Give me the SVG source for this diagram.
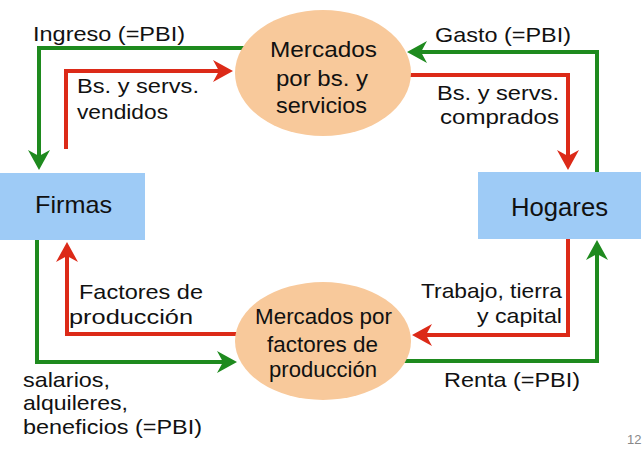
<svg xmlns="http://www.w3.org/2000/svg" width="644" height="450" viewBox="0 0 644 450">
<defs>
<style>
.t{font-family:"Liberation Sans",Arial,sans-serif;font-size:21px;fill:#111}
.n{font-family:"Liberation Sans",Arial,sans-serif;font-size:22px;fill:#111}
.b{font-family:"Liberation Sans",Arial,sans-serif;font-size:24px;fill:#111}
.g{fill:none;stroke:#1e8a1e;stroke-width:4}
.r{fill:none;stroke:#dc2a18;stroke-width:4}
.ell{fill:#f8c99b}
.box{fill:#9ecbf6}
</style>
<marker id="ag" viewBox="-12 -12 24 24" markerWidth="24" markerHeight="24" markerUnits="userSpaceOnUse" refX="0" refY="0" orient="auto">
<path d="M10,0 L-10,-11 L-4,0 L-10,11 Z" fill="#1e8a1e"/>
</marker>
<marker id="ar" viewBox="-12 -12 24 24" markerWidth="24" markerHeight="24" markerUnits="userSpaceOnUse" refX="0" refY="0" orient="auto">
<path d="M10,0 L-10,-11 L-4,0 L-10,11 Z" fill="#dc2a18"/>
</marker>
</defs>
<rect width="644" height="450" fill="#ffffff"/>
<g id="connectors">
<path class="g" d="M245,48 H39 V160" marker-end="url(#ag)"/>
<path class="r" d="M66,149 V71 H223" marker-end="url(#ar)"/>
<path class="g" d="M597,172 V52 H417" marker-end="url(#ag)"/>
<path class="r" d="M400,75 H568 V160" marker-end="url(#ar)"/>
<path class="r" d="M245,334 H67 V252" marker-end="url(#ar)"/>
<path class="g" d="M37,240 V362 H227" marker-end="url(#ag)"/>
<path class="r" d="M568,239 V335 H422" marker-end="url(#ar)"/>
<path class="g" d="M400,361 H597 V250" marker-end="url(#ag)"/>
</g>
<g id="labels">
<text class="t" x="33" y="41" textLength="152" lengthAdjust="spacingAndGlyphs">Ingreso (=PBI)</text>
<text class="t" x="77" y="93" textLength="122" lengthAdjust="spacingAndGlyphs">Bs. y servs.</text>
<text class="t" x="77" y="119" textLength="91" lengthAdjust="spacingAndGlyphs">vendidos</text>
<text class="t" x="435" y="42" textLength="136" lengthAdjust="spacingAndGlyphs">Gasto (=PBI)</text>
<text class="t" x="437" y="100" textLength="122" lengthAdjust="spacingAndGlyphs">Bs. y servs.</text>
<text class="t" x="440" y="124" textLength="119" lengthAdjust="spacingAndGlyphs">comprados</text>
<text class="t" x="79" y="299" textLength="124" lengthAdjust="spacingAndGlyphs">Factores de</text>
<text class="t" x="69" y="324" textLength="124" lengthAdjust="spacingAndGlyphs">producción</text>
<text class="t" x="23" y="387" textLength="87" lengthAdjust="spacingAndGlyphs">salarios,</text>
<text class="t" x="23" y="410" textLength="105" lengthAdjust="spacingAndGlyphs">alquileres,</text>
<text class="t" x="23" y="434" textLength="179" lengthAdjust="spacingAndGlyphs">beneficios (=PBI)</text>
<text class="t" x="421" y="298" textLength="141" lengthAdjust="spacingAndGlyphs">Trabajo, tierra</text>
<text class="t" x="477" y="323" textLength="85" lengthAdjust="spacingAndGlyphs">y capital</text>
<text class="t" x="444" y="387" textLength="136" lengthAdjust="spacingAndGlyphs">Renta (=PBI)</text>
<text x="627" y="444" style="font-family:'Liberation Sans',Arial,sans-serif;font-size:13px;fill:#888">12</text>
</g>
<g id="mercados-bienes">
<ellipse class="ell" cx="323" cy="73" rx="88" ry="63"/>
<text class="n" x="270" y="57" textLength="107" lengthAdjust="spacingAndGlyphs">Mercados</text>
<text class="n" x="276" y="86" textLength="92" lengthAdjust="spacingAndGlyphs">por bs. y</text>
<text class="n" x="276" y="113" textLength="91" lengthAdjust="spacingAndGlyphs">servicios</text>
</g>
<g id="mercados-factores">
<ellipse class="ell" cx="323" cy="341" rx="88" ry="59"/>
<text class="n" x="255" y="324" textLength="137" lengthAdjust="spacingAndGlyphs">Mercados por</text>
<text class="n" x="267" y="352" textLength="111" lengthAdjust="spacingAndGlyphs">factores de</text>
<text class="n" x="269" y="377" textLength="108" lengthAdjust="spacingAndGlyphs">producción</text>
</g>
<g id="firmas">
<rect class="box" x="0" y="173" width="145" height="67"/>
<text class="b" x="35" y="213" textLength="77" lengthAdjust="spacingAndGlyphs">Firmas</text>
</g>
<g id="hogares">
<rect class="box" x="478" y="172" width="163" height="67"/>
<text class="b" x="511" y="216" style="font-size:25px" textLength="97" lengthAdjust="spacingAndGlyphs">Hogares</text>
</g>
</svg>
